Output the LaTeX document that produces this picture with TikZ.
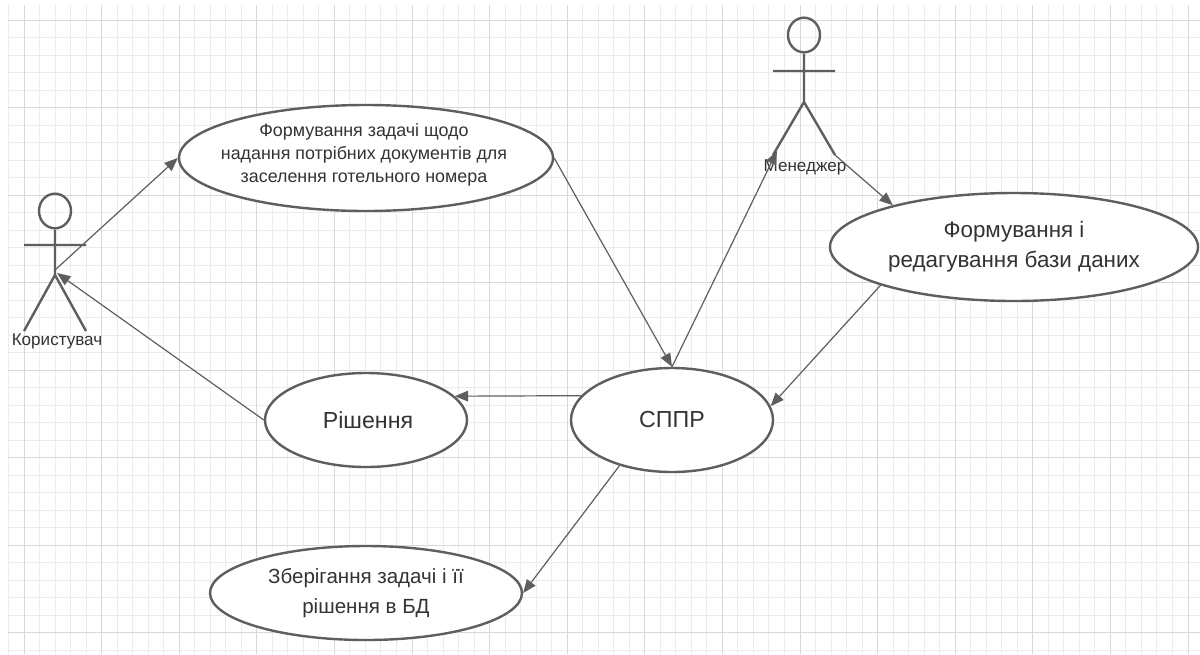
\documentclass[tikz,border=0pt]{standalone}
\usepackage{fontspec}
\setmainfont{Liberation Sans}
\usetikzlibrary{shapes.geometric,arrows.meta}
\definecolor{ink}{HTML}{5E5E5E}
\definecolor{txt}{HTML}{333333}
\definecolor{gridminor}{HTML}{ECECEC}
\definecolor{gridmajor}{HTML}{D8D8D8}
\tikzset{
  x=0.75pt,y=-0.75pt,
  usecase/.style={draw=ink,line width=1.8pt,fill=white,ellipse,inner sep=0pt,text=txt,align=center},
  link/.style={draw=ink,line width=0.9pt,-{Stealth[length=10pt,width=8pt,inset=0pt]}},
  limb/.style={draw=ink,line width=1.8pt},
  head/.style={draw=ink,line width=1.8pt,ellipse,minimum width=24pt,minimum height=26pt,inner sep=0pt},
  actorlabel/.style={text=txt,font=\fontsize{12.8}{15}\selectfont,inner sep=0pt},
  smalltext/.style={text=txt,align=center,inner sep=0pt,font=\fontsize{13.4}{17.2}\selectfont},
  mediumtext/.style={font=\fontsize{15.4}{22.5}\selectfont},
  dbtext/.style={font=\fontsize{16.8}{22.5}\selectfont},
  largetext/.style={font=\fontsize{17.4}{22.5}\selectfont}
}
\begin{document}
\begin{tikzpicture}
\useasboundingbox (0,0) rectangle (1200,654);
\fill[white] (0,0) rectangle (1200,654);
% grid
\foreach \i in {0,...,76}{
  \pgfmathsetmacro{\gx}{8.5+15.52*\i}
  \draw[gridminor,line width=0.75pt] (\gx,5) -- (\gx,654);
}
\foreach \j in {1,...,37}{
  \pgfmathsetmacro{\gy}{2.5+17.5*\j}
  \draw[gridminor,line width=0.75pt] (8,\gy) -- (1200,\gy);
}
\foreach \i in {0,...,15}{
  \pgfmathsetmacro{\gx}{24+77.6*\i}
  \draw[gridmajor,line width=0.75pt] (\gx,5) -- (\gx,654);
}
\foreach \j in {0,...,7}{
  \pgfmathsetmacro{\gy}{20+87.5*\j}
  \draw[gridmajor,line width=0.75pt] (8,\gy) -- (1200,\gy);
}
% use cases
\node[usecase,minimum width=280.5pt,minimum height=79.5pt] (task) at (366,158) {};
\node[smalltext] (tasktext) at (364,155)
  {Формування задачі щодо\\надання потрібних документів для\\заселення готельного номера};
\node[usecase,largetext,minimum width=151.5pt,minimum height=70.5pt] (sol) at (366,420) {\hspace{3pt}Рішення};
\node[usecase,largetext,minimum width=151.5pt,minimum height=78pt] (dss) at (672,420) {СППР};
\node[usecase,dbtext,minimum width=276pt,minimum height=81pt] (db) at (1014,247)
  {Формування і\\редагування бази даних};
\node[usecase,mediumtext,minimum width=234pt,minimum height=70.5pt] (store) at (366,593)
  {Зберігання задачі і її\\рішення в БД};
% actor: user
\node[head] (uhead) at (55,211) {};
\coordinate (uhip) at (55,275);
\coordinate (uarml) at (24,245);
\coordinate (uarmr) at (86,245);
\coordinate (ufootl) at (24,331);
\coordinate (ufootr) at (86,331);
\draw[limb] (uhead) -- (uhip) (uarml) -- (uarmr) (ufootl) -- (uhip) -- (ufootr);
\node[actorlabel] (ulabel) at (57,341) {Користувач};
% actor: manager
\node[head] (mhead) at (804,35) {};
\coordinate (mhip) at (804,102);
\coordinate (marml) at (773,71);
\coordinate (marmr) at (835,71);
\coordinate (mfootl) at (773,155);
\coordinate (mfootr) at (835,155);
\draw[limb] (mhead) -- (mhip) (marml) -- (marmr) (mfootl) -- (mhip) -- (mfootr);
\node[actorlabel] (mlabel) at (805,167) {Менеджер};
% connectors
\coordinate (uin) at (57,273);
\coordinate (uout) at (55,270);
\coordinate (min) at (777,151);
\draw[link] (uout) -- (task.west);
\draw[link] (task.east) -- (dss.north);
\draw[link] (dss.north) -- (min);
\draw[link] (mfootr) -- (db.161);
\draw[link] (db.196) -- (dss.8);
\draw[link] (dss.165) -- (sol.15);
\draw[link] (sol.west) -- (uin);
\draw[link] (dss.221) -- (store.east);
\end{tikzpicture}
\end{document}
